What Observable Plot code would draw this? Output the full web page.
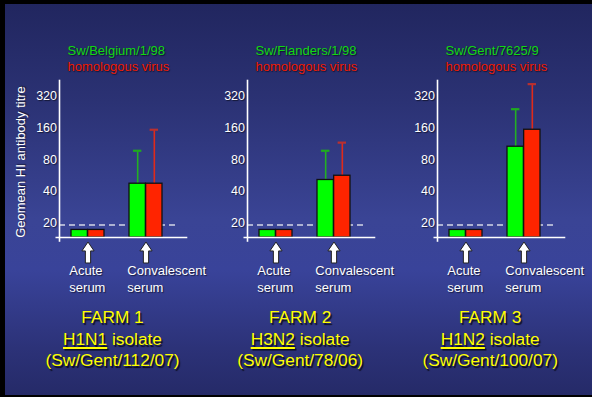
<!DOCTYPE html>
<html>
<head>
<meta charset="utf-8">
<script src="https://cdn.jsdelivr.net/npm/d3@7"></script>
<script src="https://cdn.jsdelivr.net/npm/@observablehq/plot@0.6"></script>
<style>
html,body{margin:0;padding:0;background:#000;}
#slide{position:relative;width:592px;height:397px;background:#000;overflow:hidden;font-family:"Liberation Sans",Arial,sans-serif;}
#bg{position:absolute;left:5px;top:4px;right:0;bottom:2px;
  background:linear-gradient(to bottom,#21265f 0%,#2b3274 25%,#3a4495 55%,#39439a 68%,#2c3278 88%,#252a68 100%);}
.panel{position:absolute;top:0;}
.panel svg{overflow:visible;}
.panel svg text{text-shadow:1px 1px 1px rgba(0,0,0,0.55);}
.farm{position:absolute;width:220px;text-align:center;color:#ffff00;font-size:17.3px;line-height:21.5px;
  text-shadow:1.5px 1.5px 1px rgba(0,0,0,0.75);white-space:nowrap;}
.farm u{text-decoration-thickness:2px;text-underline-offset:2px;}
</style>
</head>
<body>
<div id="slide"><div id="bg"></div></div>
<script>
// ---- data ----
const farms = ["FARM 1", "FARM 2", "FARM 3"];
const subtypes = ["H1N1", "H3N2", "H1N2"];
const isolates = ["(Sw/Gent/112/07)", "(Sw/Gent/78/06)", "(Sw/Gent/100/07)"];
const strains = ["Sw/Belgium/1/98", "Sw/Flanders/1/98", "Sw/Gent/7625/9"];
const homologousLabel = "homologous virus";
const sera = ["Acute", "Convalescent"];
const seraLabels = ["Acute\nserum", "Convalescent\nserum"];
const strainAcute = [17, 17, 17];
const homAcute = [17, 17, 17];
const strainConv = [47, 51, 106];
const homConv = [47, 56, 154];
const strainConvUpper = [97, 97, 242];
const homConvUpper = [154, 116, 420];
const yTicks = [20, 40, 80, 160, 320];
const cutoff = 19;
const yDomain = [14.4, 455];
const yLabel = "Geomean HI antibody titre";

// ---- layout ----
const axisPos = [59, 246.7, 436.7];
const frameTop = 80, frameBottom = 237, frameW = 128.3, H = 300;
const xRangeW = 115.6, padIn = 0.429, padOut = 0.206;
const bw = d3.scaleBand().domain(sera).range([0, xRangeW]).paddingInner(padIn).paddingOuter(padOut).bandwidth();
const half = bw / 2;
const capW = 8.7;
const GREEN = "#00ff00", RED = "#ff2400";

const arrowSymbol = {
  draw(context, size) {
    const k = Math.sqrt(size / Math.PI) / 10;
    context.moveTo(0, -10 * k);
    context.lineTo(5.8 * k, -1.5 * k);
    context.lineTo(2.5 * k, -1.5 * k);
    context.lineTo(2.5 * k, 10 * k);
    context.lineTo(-2.5 * k, 10 * k);
    context.lineTo(-2.5 * k, -1.5 * k);
    context.lineTo(-5.8 * k, -1.5 * k);
    context.closePath();
  }
};

const slide = document.getElementById("slide");

farms.forEach((farm, i) => {
  const ml = i === 0 ? 51 : 40;
  const W = ml + frameW + 10;
  const rows = sera.map((s, j) => ({
    serum: s,
    ref: j ? strainConv[i] : strainAcute[i],
    hom: j ? homConv[i] : homAcute[i],
    refUp: j ? strainConvUpper[i] : null,
    homUp: j ? homConvUpper[i] : null
  }));
  const withErr = rows.filter(d => d.refUp != null);
  const marks = [
    Plot.ruleY([cutoff], {stroke: "#d4d6e6", strokeWidth: 1.5, strokeDasharray: "6,4", insetRight: 8.3}),
    Plot.ruleX(withErr, {x: "serum", y1: "ref", y2: "refUp", dx: -half / 2, stroke: "#23b023", strokeWidth: 1.6}),
    Plot.ruleX(withErr, {x: "serum", y1: "hom", y2: "homUp", dx: half / 2, stroke: "#e02a1a", strokeWidth: 1.6}),
    Plot.tickY(withErr, {x: "serum", y: "refUp", dx: -half / 2, insetLeft: (bw - capW) / 2, insetRight: (bw - capW) / 2, stroke: "#1faa1f", strokeWidth: 2.2}),
    Plot.tickY(withErr, {x: "serum", y: "homUp", dx: half / 2, insetLeft: (bw - capW) / 2, insetRight: (bw - capW) / 2, stroke: "#b83030", strokeWidth: 2.2}),
    Plot.barY(rows, {x: "serum", y1: yDomain[0], y2: "ref", insetRight: half, fill: GREEN, stroke: "#111", strokeWidth: 1.3}),
    Plot.barY(rows, {x: "serum", y1: yDomain[0], y2: "hom", insetLeft: half, fill: RED, stroke: "#111", strokeWidth: 1.3}),
    Plot.frame({anchor: "left", stroke: "white", strokeWidth: 1.6, insetBottom: -3.5}),
    Plot.ruleY([yDomain[0]], {stroke: "white", strokeWidth: 1.6, insetLeft: -3.5}),
    Plot.axisY({ticks: yTicks, tickFormat: d => String(d), tickSize: 0, tickPadding: 2.5, fontSize: 12.5, label: null, fill: "white"}),
    Plot.dot(sera, {x: d => d, frameAnchor: "bottom", dy: 15, r: 10.5, symbol: arrowSymbol, fill: "white", stroke: "#222", strokeWidth: 1}),
    Plot.text(sera, {x: d => d, text: d => seraLabels[sera.indexOf(d)], frameAnchor: "bottom", dy: 40.5, lineAnchor: "middle", lineHeight: 1.28, textAnchor: "start", dx: -half - 2, fill: "white", fontSize: 13}),
    Plot.text([strains[i]], {text: d => d, frameAnchor: "top-left", textAnchor: "start", lineAnchor: "middle", dx: 8, dy: -30, fill: "#12d812", fontSize: 13}),
    Plot.text([homologousLabel], {text: d => d, frameAnchor: "top-left", textAnchor: "start", lineAnchor: "middle", dx: 8, dy: -14, fill: "#f01a00", fontSize: 13})
  ];
  if (i === 0) {
    marks.push(Plot.text([yLabel], {text: d => d, frameAnchor: "left", textAnchor: "middle", lineAnchor: "middle", rotate: -90, dx: -(axisPos[0] - 20.7), dy: 3, fill: "white", fontSize: 13}));
  }
  const chart = Plot.plot({
    width: W,
    height: H,
    marginLeft: ml,
    marginRight: W - ml - frameW,
    marginTop: frameTop,
    marginBottom: H - frameBottom,
    style: {background: "transparent", color: "white", fontFamily: "'Liberation Sans', Arial, sans-serif", fontSize: "13px"},
    x: {type: "band", domain: sera, range: [ml, ml + xRangeW], paddingInner: padIn, paddingOuter: padOut, axis: null},
    y: {type: "log", base: 2, domain: yDomain, axis: null},
    marks
  });
  const wrap = document.createElement("div");
  wrap.className = "panel";
  wrap.style.left = (axisPos[i] - ml) + "px";
  wrap.appendChild(chart);
  slide.appendChild(wrap);

  const f = document.createElement("div");
  f.className = "farm";
  f.style.left = (axisPos[i] + 53.5 - 110) + "px";
  f.style.top = "307px";
  const l1 = document.createElement("div"); l1.textContent = farm;
  const l2 = document.createElement("div");
  const u = document.createElement("u"); u.textContent = subtypes[i];
  l2.appendChild(u); l2.appendChild(document.createTextNode(" isolate"));
  const l3 = document.createElement("div"); l3.textContent = isolates[i];
  f.appendChild(l1); f.appendChild(l2); f.appendChild(l3);
  slide.appendChild(f);
});
</script>
</body>
</html>
